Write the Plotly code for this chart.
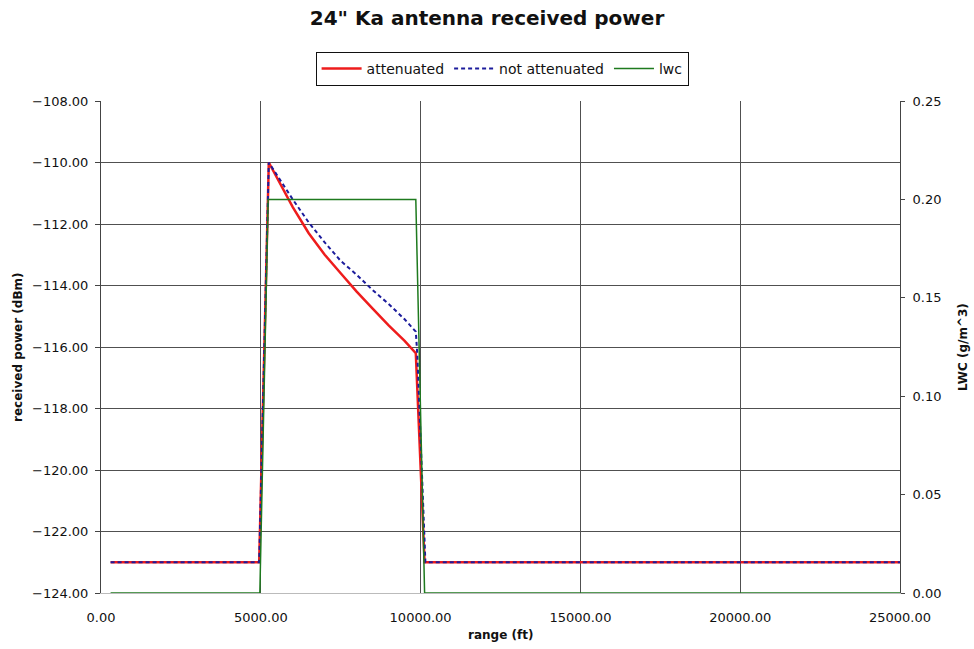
import plotly.graph_objects as go

# received power, attenuated (dBm)
att_range = [300, 4950, 5250, 5500, 6000, 6500, 7000, 7500, 8000, 8500, 9000,
             9500, 9850, 10125, 25000]
att_power = [-123.0, -123.0, -110.0, -110.5, -111.45, -112.3, -113.0, -113.6,
             -114.2, -114.75, -115.3, -115.8, -116.2, -123.0, -123.0]

# received power, not attenuated (dBm)
noatt_range = [300, 4950, 5250, 5500, 6000, 6500, 7000, 7500, 8000, 8500, 9000,
               9500, 9850, 9900, 10150, 25000]
noatt_power = [-123.0, -123.0, -110.0, -110.4, -111.2, -111.95, -112.6, -113.2,
               -113.65, -114.15, -114.6, -115.1, -115.5, -116.3, -123.0, -123.0]

# liquid water content (g/m^3)
lwc_range = [300, 4970, 5230, 9850, 10125, 25000]
lwc_values = [0.0, 0.0, 0.2, 0.2, 0.0, 0.0]

FONT = "DejaVu Sans"
GRID = "#505050"

# plot area in pixels
L, R, T, B = 101, 900, 101, 593
PW, PH = R - L, B - T

fig = go.Figure()

fig.add_trace(go.Scatter(
    x=att_range, y=att_power, name="attenuated", mode="lines",
    line=dict(color="#ee1c1c", width=2.5)
))
fig.add_trace(go.Scatter(
    x=noatt_range, y=noatt_power, name="not attenuated", mode="lines",
    line=dict(color="#1c1c9c", width=2, dash="4px,3px")
))
fig.add_trace(go.Scatter(
    x=lwc_range, y=lwc_values, name="lwc", mode="lines", yaxis="y2",
    line=dict(color="#1e7a1e", width=1.5)
))

title_font = dict(family=FONT, size=12, color="#111")

fig.update_layout(
    width=974, height=649,
    margin=dict(l=L, r=974 - R, t=T, b=649 - B),
    paper_bgcolor="white", plot_bgcolor="white",
    font=dict(family=FONT, size=13, color="#111"),
    title=dict(text="<b>24\" Ka antenna received power</b>",
               x=0.5, xanchor="center", y=1 - 18 / 649, yanchor="middle",
               font=dict(family=FONT, size=20, color="#111")),
    legend=dict(orientation="h", x=0.502, xanchor="center",
                y=(B - 52) / PH, yanchor="top",
                bordercolor="#111", borderwidth=1, bgcolor="white",
                font=dict(family=FONT, size=14), itemwidth=40,
                tracegroupgap=0),
    showlegend=True,
    xaxis=dict(
        range=[0, 25000], dtick=5000, tick0=0, tickformat=".2f",
        showgrid=True, gridcolor=GRID, gridwidth=1, zeroline=False,
        showline=True, linecolor="#bbbbbb", linewidth=1,
        ticks="", ticklabelstandoff=12, tickfont=dict(family=FONT, size=13),
        automargin=False
    ),
    yaxis=dict(
        range=[-124, -108], dtick=2, tick0=-124, tickformat=".2f",
        showgrid=True, gridcolor=GRID, gridwidth=1, zeroline=False,
        showline=True, linecolor="#444", linewidth=1,
        ticks="outside", ticklen=5, tickcolor="#444", ticklabelstandoff=4,
        tickfont=dict(family=FONT, size=13), automargin=False
    ),
    yaxis2=dict(
        range=[0, 0.25], dtick=0.05, tick0=0, tickformat=".2f",
        overlaying="y", side="right", showgrid=False, zeroline=False,
        showline=True, linecolor="#444", linewidth=1,
        ticks="outside", ticklen=4, tickcolor="#444", ticklabelstandoff=5,
        tickfont=dict(family=FONT, size=13), automargin=False
    ),
)

# axis titles
fig.add_annotation(text="<b>range (ft)</b>", xref="paper", yref="paper",
                   x=0.5, y=(B - 635) / PH, xanchor="center", yanchor="middle",
                   showarrow=False, font=title_font)
fig.add_annotation(text="<b>received power (dBm)</b>", xref="paper", yref="paper",
                   x=(18 - L) / PW, y=0.5, xanchor="center", yanchor="middle",
                   textangle=-90, showarrow=False, font=title_font)
fig.add_annotation(text="<b>LWC (g/m^3)</b>", xref="paper", yref="paper",
                   x=(963 - L) / PW, y=0.5, xanchor="center", yanchor="middle",
                   textangle=-90, showarrow=False, font=title_font)

fig.write_html("out.html", config={"displayModeBar": False},
               post_script="document.body.style.margin = '0';")
